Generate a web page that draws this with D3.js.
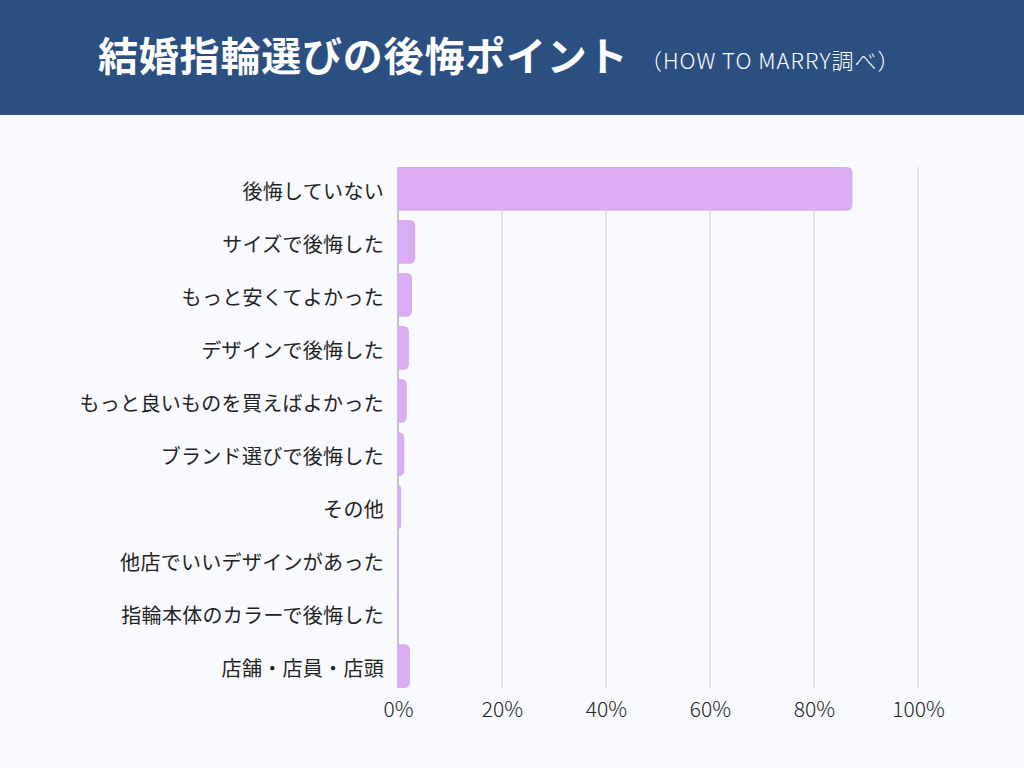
<!DOCTYPE html>
<html>
<head>
<meta charset="utf-8">
<script src="https://cdn.jsdelivr.net/npm/d3@7"></script>
<style>
html,body{margin:0;padding:0;background:#f8fafd;}
svg{display:block;}
</style>
</head>
<body>
<svg id="chart" width="1024" height="768"></svg>
<script>
const categories = ["後悔していない","サイズで後悔した","もっと安くてよかった","デザインで後悔した","もっと良いものを買えばよかった","ブランド選びで後悔した","その他","他店でいいデザインがあった","指輪本体のカラーで後悔した","店舗・店員・店頭"];
const values = [87.4, 3.3, 2.7, 2.1, 1.7, 1.2, 0.6, 0.2, 0.2, 2.3];
const tickValues = [0, 20, 40, 60, 80, 100];
const title = "結婚指輪選びの後悔ポイント";
const subtitle = "（HOW TO MARRY調べ）";

const svg = d3.select("#chart");
const W = 1024, H = 768;
const font = "'Noto Sans CJK JP','Noto Sans',sans-serif";

svg.append("rect").attr("width", W).attr("height", H).attr("fill", "#f8fafd");
svg.append("rect").attr("width", W).attr("height", 115).attr("fill", "#2c4f82");
svg.append("text").attr("x", 98).attr("y", 71).attr("fill", "#fff")
  .attr("font-family", font).attr("font-size", 40).attr("font-weight", 700)
  .attr("letter-spacing", 0.8)
  .text(title);
svg.append("text").attr("x", 640).attr("y", 68.5).attr("fill", "#fff")
  .attr("font-family", font).attr("font-size", 22).attr("font-weight", 300)
  .attr("letter-spacing", 1)
  .text(subtitle);

const x = d3.scaleLinear().domain([0, 100]).range([398, 918]);
const y = d3.scaleBand().domain(categories).range([167, 688]).paddingInner(0.175).paddingOuter(0);

const g = svg.append("g");
// gridlines
g.selectAll("line.grid").data(tickValues.filter(d => d > 0)).join("line")
  .attr("class", "grid")
  .attr("x1", d => x(d)).attr("x2", d => x(d))
  .attr("y1", 167).attr("y2", 688)
  .attr("stroke", "#d4d4d6").attr("stroke-width", 1.2);
// axis line
g.append("line").attr("x1", x(0)).attr("x2", x(0)).attr("y1", 167).attr("y2", 688)
  .attr("stroke", "#b3b3b3").attr("stroke-width", 1.5);

function barPath(d) {
  const x0 = x(0), x1 = x(d.v), y0 = y(d.c), h = y.bandwidth();
  const w = x1 - x0;
  const r = Math.min(6, w, h / 2);
  return `M${x0},${y0} H${x1 - r} Q${x1},${y0} ${x1},${y0 + r} V${y0 + h - r} Q${x1},${y0 + h} ${x1 - r},${y0 + h} H${x0} Z`;
}
g.selectAll("path.bar").data(categories.map((c, i) => ({c, v: values[i]}))).join("path")
  .attr("class", "bar").attr("d", barPath).attr("fill", "#d9acf3");

// category labels
g.selectAll("text.cat").data(categories).join("text")
  .attr("class", "cat")
  .attr("x", 384).attr("y", d => y(d) + y.bandwidth() / 2)
  .attr("dy", "0.5em").attr("text-anchor", "end")
  .attr("font-family", font).attr("font-size", 20).attr("fill", "#222")
  .attr("letter-spacing", 0.3)
  .text(d => d);

// x axis tick labels
const xAxis = d3.axisBottom(x).tickValues(tickValues).tickFormat(d => d + "%").tickSize(0).tickPadding(0);
const ax = svg.append("g").attr("transform", "translate(0,716.5)").call(xAxis);
ax.select(".domain").remove();
ax.selectAll("text").attr("font-family", font).attr("font-size", 21).attr("font-weight", 300)
  .attr("fill", "#222").attr("dy", "0");
</script>
</body>
</html>
